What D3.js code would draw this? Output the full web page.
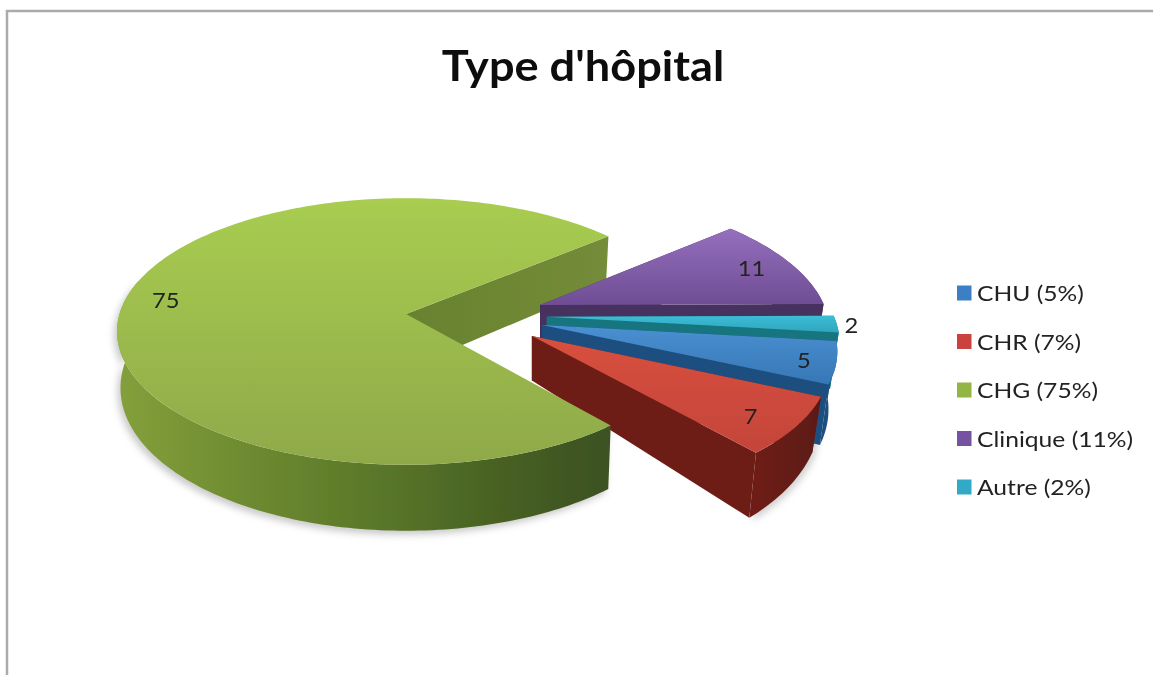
<!DOCTYPE html>
<html>
<head>
<meta charset="utf-8">
<script src="https://d3js.org/d3.v7.min.js"></script>
<style>
    html, body { margin: 0; padding: 0; background: #fff; overflow: hidden; }
    text { font-family: Lato, "Open Sans", sans-serif; fill: #222; }
</style>
</head>
<body>
<div id="chart"></div>
<script>
// data
const titleText = "Type d'hôpital";
const categories = ["CHU", "CHR", "CHG", "Clinique", "Autre"];
const values = [5, 7, 75, 11, 2];
const legendLabels = ["CHU (5%)", "CHR (7%)", "CHG (75%)", "Clinique (11%)", "Autre (2%)"];

// colours for each slice
const topLight = ["#4a90d2", "#d8503f", "#a8cd50", "#9570be", "#3cbdd6"];
const topDark = ["#3777b5", "#c4443a", "#8fa94a", "#6f4d94", "#2fa5bd"];
const wallColor = ["#1d5080", "#6e1f17", "#6d8a2e", "#47305f", "#15757f"];
const legendColor = ["#3d7fc4", "#c9433c", "#93b544", "#7553a0", "#30a9c6"];

const width = 1153, height = 675;
// pie plane -> screen
const centerX = 406, centerY = 314, radiusX = 286.5, radiusY = 131, persp = 0.131;
// how far each slice is pulled out of the centre, in pie radii
const explodeU = [0.47, 0.43, 0, 0.472, 0.49];
const explodeV = [0.0825, 0.164, 0, -0.0693, 0.02];
const labelR = [0.9, 0.85, 0.85, 0.83, 1.05];
const labelDx = [-2, -3, 0, 3, 0];
const labelDy = [2, 5, -3, 0, 2];
// source looks stretched sideways, text too
const textStretch = 1.13;

function project(u, v) {
    const s = 1 / (1 - persp * v);
    return [centerX + radiusX * u * s, centerY + radiusY * v * s];
}

// wall height grows toward the viewer
function wallDepth(i, v) {
    return i === 1 ? 40 + 27 * v : 55 + 11 * v;
}

const svg = d3.select("#chart")
    .append("svg")
    .attr("width", width)
    .attr("height", height);

const defs = svg.append("defs");

defs.append("filter").attr("id", "soft")
    .attr("x", "-5%").attr("y", "-5%").attr("width", "110%").attr("height", "110%")
    .append("feGaussianBlur").attr("stdDeviation", 0.5);

defs.append("filter").attr("id", "softText")
    .attr("x", "-10%").attr("y", "-20%").attr("width", "120%").attr("height", "140%")
    .append("feGaussianBlur").attr("stdDeviation", 0.4);

defs.append("filter").attr("id", "shadow")
    .attr("x", "-10%").attr("y", "-20%").attr("width", "120%").attr("height", "140%")
    .append("feGaussianBlur").attr("stdDeviation", 3.5);

function gradient(id, x2, y2, stops) {
    const g = defs.append("linearGradient").attr("id", id)
        .attr("x1", 0).attr("y1", 0).attr("x2", x2).attr("y2", y2);
    stops.forEach(s => g.append("stop").attr("offset", s[0]).attr("stop-color", s[1]));
}

categories.forEach((c, i) => {
    gradient("top" + i, 0, 1, [[0, topLight[i]], [1, topDark[i]]]);
});
gradient("rimGreen", 1, 0, [[0, "#84a03c"], [0.25, "#6f8c31"], [0.55, "#587529"], [0.8, "#465f22"], [1, "#3c5120"]]);
gradient("rimRed", 1, 0, [[0, "#701f17"], [1, "#5c1912"]]);
gradient("innerGreen", 1, 0, [[0, "#68822f"], [1, "#748c39"]]);

// chart frame
svg.append("path")
    .attr("d", `M7,${height}V11H${width}`)
    .attr("fill", "none")
    .attr("stroke", "#ababab")
    .attr("stroke-width", 2.5);

// title
svg.append("text")
    .attr("transform", `translate(583,81) scale(1.075,1)`)
    .attr("text-anchor", "middle")
    .attr("font-size", 42)
    .attr("font-weight", 700)
    .attr("filter", "url(#softText)")
    .style("fill", "#111")
    .text(titleText);

// start angle chosen so the gap of the big slice faces right
const pie = d3.pie().sort(null).startAngle(96.8 * Math.PI / 180).endAngle((96.8 + 360) * Math.PI / 180);
const arcs = pie(values);

const line = d3.line();

function planePoint(i, a, r) {
    return [explodeU[i] + r * Math.sin(a), explodeV[i] - r * Math.cos(a)];
}

function rimPoints(i, a0, a1) {
    const n = Math.max(2, Math.ceil(Math.abs(a1 - a0) / 0.02));
    return d3.range(n + 1).map(k => planePoint(i, a0 + (a1 - a0) * k / n, 1));
}

function topPath(i) {
    const pts = [[explodeU[i], explodeV[i]]].concat(rimPoints(i, arcs[i].startAngle, arcs[i].endAngle));
    return line(pts.map(p => project(p[0], p[1]))) + "Z";
}

function wallPath(i, pts) {
    const upper = pts.map(p => project(p[0], p[1]));
    // verticals lean in toward the bottom, more on the pulled out slices
    const leanX = project(explodeU[i], explodeV[i])[0];
    const lean = i === 2 ? 0.012 : 0.03;
    const lower = pts.map((p, k) => [
        upper[k][0] - (upper[k][0] - leanX) * lean,
        upper[k][1] + wallDepth(i, p[1])
    ]);
    return line(upper.concat(lower.reverse())) + "Z";
}

// soft shadow on the page under the big slice and the red one
const bigRim = rimPoints(2, arcs[2].startAngle, 285 * Math.PI / 180);
svg.append("path")
    .attr("d", wallPath(2, bigRim))
    .attr("transform", "translate(-3,4)")
    .attr("fill", "#8a8a8a")
    .attr("opacity", 0.45)
    .attr("filter", "url(#shadow)");
svg.append("path")
    .attr("d", wallPath(1, rimPoints(1, arcs[1].startAngle, arcs[1].endAngle)))
    .attr("transform", "translate(3,3)")
    .attr("fill", "#8a8a8a")
    .attr("opacity", 0.4)
    .attr("filter", "url(#shadow)");

const chart = svg.append("g").attr("filter", "url(#soft)");

// inner wall of the big slice sits behind the others
const bigEnd = arcs[2].endAngle;
chart.append("path")
    .attr("d", wallPath(2, [[0, 0], planePoint(2, bigEnd, 1)]))
    .attr("fill", "url(#innerGreen)");

// exploded slices, back to front
[3, 4, 0, 1].forEach(i => {
    const apex = [explodeU[i], explodeV[i]];
    const a0 = arcs[i].startAngle, a1 = arcs[i].endAngle;
    chart.append("path").attr("d", wallPath(i, [apex, planePoint(i, a0, 1)])).attr("fill", wallColor[i]);
    chart.append("path").attr("d", wallPath(i, [apex, planePoint(i, a1, 1)])).attr("fill", wallColor[i]);
    chart.append("path").attr("d", wallPath(i, rimPoints(i, a0, a1)))
        .attr("fill", i === 1 ? "url(#rimRed)" : wallColor[i]);
    chart.append("path").attr("d", topPath(i)).attr("fill", `url(#top${i})`);
});

// big slice last, only the front part of the rim shows
chart.append("path")
    .attr("d", wallPath(2, bigRim))
    .attr("fill", "url(#rimGreen)");
chart.append("path").attr("d", topPath(2)).attr("fill", "url(#top2)");

// value labels
arcs.forEach((d, i) => {
    const p = planePoint(i, (d.startAngle + d.endAngle) / 2, labelR[i]);
    const xy = project(p[0], p[1]);
    svg.append("text")
        .attr("transform", `translate(${xy[0] + labelDx[i]},${xy[1] + 7 + labelDy[i]}) scale(${textStretch},1)`)
        .attr("text-anchor", "middle")
        .attr("font-size", 21)
        .attr("filter", "url(#softText)")
        .text(d.data);
});

// legend
const legendY = d3.scalePoint().domain(categories).range([293, 487]);

const legend = svg.selectAll(".legend")
    .data(categories)
    .enter().append("g")
    .attr("class", "legend")
    .attr("transform", d => `translate(957,${legendY(d)})`);

legend.append("rect")
    .attr("x", 0).attr("y", -7.5)
    .attr("width", 14.5).attr("height", 15)
    .attr("fill", (d, i) => legendColor[i])
    .attr("filter", "url(#softText)");

legend.append("text")
    .attr("transform", `translate(20,8) scale(1.12,1)`)
    .attr("font-size", 22)
    .attr("filter", "url(#softText)")
    .text((d, i) => legendLabels[i]);
</script>
</body>
</html>
